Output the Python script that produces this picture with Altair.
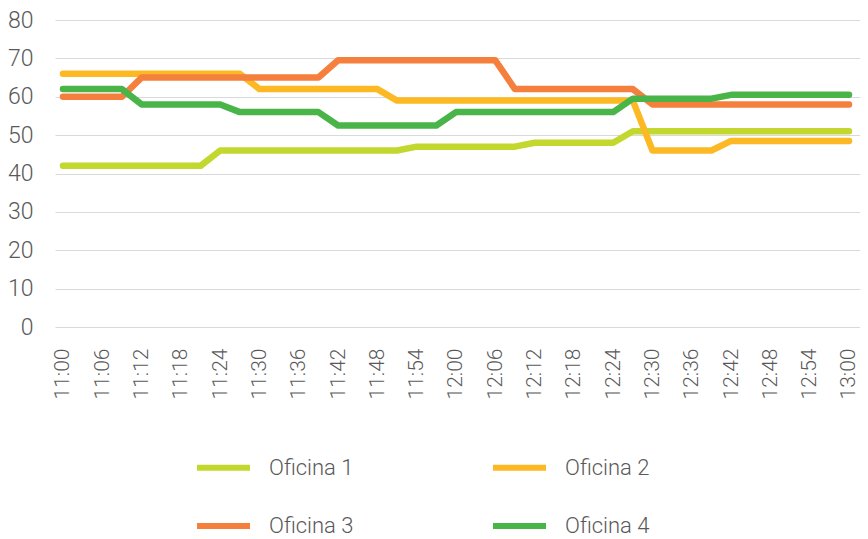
import altair as alt
import pandas as pd

times = ["11:00", "11:03", "11:06", "11:09", "11:12", "11:15", "11:18", "11:21",
         "11:24", "11:27", "11:30", "11:33", "11:36", "11:39", "11:42", "11:45",
         "11:48", "11:51", "11:54", "11:57", "12:00", "12:03", "12:06", "12:09",
         "12:12", "12:15", "12:18", "12:21", "12:24", "12:27", "12:30", "12:33",
         "12:36", "12:39", "12:42", "12:45", "12:48", "12:51", "12:54", "12:57",
         "13:00"]

oficina1 = [42, 42, 42, 42, 42, 42, 42, 42,
            46, 46, 46, 46, 46, 46, 46, 46, 46, 46,
            47, 47, 47, 47, 47, 47,
            48, 48, 48, 48, 48,
            51, 51, 51, 51, 51, 51, 51, 51, 51, 51, 51, 51]
oficina2 = [66, 66, 66, 66, 66, 66, 66, 66, 66, 66,
            62, 62, 62, 62, 62, 62, 62,
            59, 59, 59, 59, 59, 59, 59, 59, 59, 59, 59, 59, 59,
            46, 46, 46, 46,
            48.5, 48.5, 48.5, 48.5, 48.5, 48.5, 48.5]
oficina3 = [60, 60, 60, 60,
            65, 65, 65, 65, 65, 65, 65, 65, 65, 65,
            69.5, 69.5, 69.5, 69.5, 69.5, 69.5, 69.5, 69.5, 69.5,
            62, 62, 62, 62, 62, 62, 62,
            58, 58, 58, 58, 58, 58, 58, 58, 58, 58, 58]
oficina4 = [62, 62, 62, 62,
            58, 58, 58, 58, 58,
            56, 56, 56, 56, 56,
            52.5, 52.5, 52.5, 52.5, 52.5, 52.5,
            56, 56, 56, 56, 56, 56, 56, 56, 56,
            59.5, 59.5, 59.5, 59.5, 59.5,
            60.5, 60.5, 60.5, 60.5, 60.5, 60.5, 60.5]

series_names = ["Oficina 1", "Oficina 2", "Oficina 3", "Oficina 4"]
series_values = [oficina1, oficina2, oficina3, oficina4]
colors = ["#C3D82E", "#FDB924", "#F5803E", "#49B548"]

tick_labels = ["11:00", "11:06", "11:12", "11:18", "11:24", "11:30", "11:36",
               "11:42", "11:48", "11:54", "12:00", "12:06", "12:12", "12:18",
               "12:24", "12:30", "12:36", "12:42", "12:48", "12:54", "13:00"]
y_ticks = [0, 10, 20, 30, 40, 50, 60, 70, 80]


def to_minutes(t):
    h, m = t.split(":")
    return int(h) * 60 + int(m) - 660


rows = []
for name, vals in zip(series_names, series_values):
    for t, v in zip(times, vals):
        rows.append({"minute": to_minutes(t), "time": t, "serie": name, "valor": v})
df = pd.DataFrame(rows)

tick_minutes = [to_minutes(t) for t in tick_labels]
label_expr = "{" + ",".join(f"'{m}':'{t}'" for m, t in zip(tick_minutes, tick_labels)) + "}[''+datum.value]"

FONT = "Roboto"
GRAY = "#595959"

chart = alt.Chart(df).mark_line(strokeWidth=6.5, strokeCap="round", strokeJoin="round").encode(
    x=alt.X("minute:Q",
            scale=alt.Scale(domain=[-1.22, 121.68], nice=False, zero=False),
            axis=alt.Axis(values=tick_minutes, labelExpr=label_expr, labelAngle=-90,
                          grid=False, ticks=False, domain=False, labelPadding=21,
                          labelFontSize=21, labelFontWeight=300, labelColor=GRAY,
                          labelFont=FONT, labelOverlap=False, title=None)),
    y=alt.Y("valor:Q",
            scale=alt.Scale(domain=[0, 80], nice=False),
            axis=alt.Axis(values=y_ticks, grid=True, gridColor="#D9D9D9", gridWidth=1,
                          ticks=False, domain=False, labelPadding=22,
                          labelFontSize=23, labelFontWeight=300, labelColor=GRAY,
                          labelFont=FONT, title=None)),
    color=alt.Color("serie:N",
                    scale=alt.Scale(domain=series_names, range=colors),
                    legend=alt.Legend(title=None, orient="none", legendX=139, legendY=418,
                                      direction="horizontal", columns=2,
                                      symbolType="stroke", symbolSize=2809,
                                      symbolStrokeWidth=6, labelFontSize=22,
                                      labelFontWeight=300,
                                      labelColor=GRAY, labelFont=FONT, labelOffset=16,
                                      columnPadding=127, rowPadding=16.5, padding=0)),
    order=alt.Order("serie:N"),
).properties(
    width=805, height=307,
    autosize=alt.AutoSizeParams(type="none"),
    padding={"left": 47, "top": 12, "right": 0, "bottom": 215},
).configure_view(stroke=None)

chart.save("out.html", embed_options={"renderer": "svg", "actions": False})
